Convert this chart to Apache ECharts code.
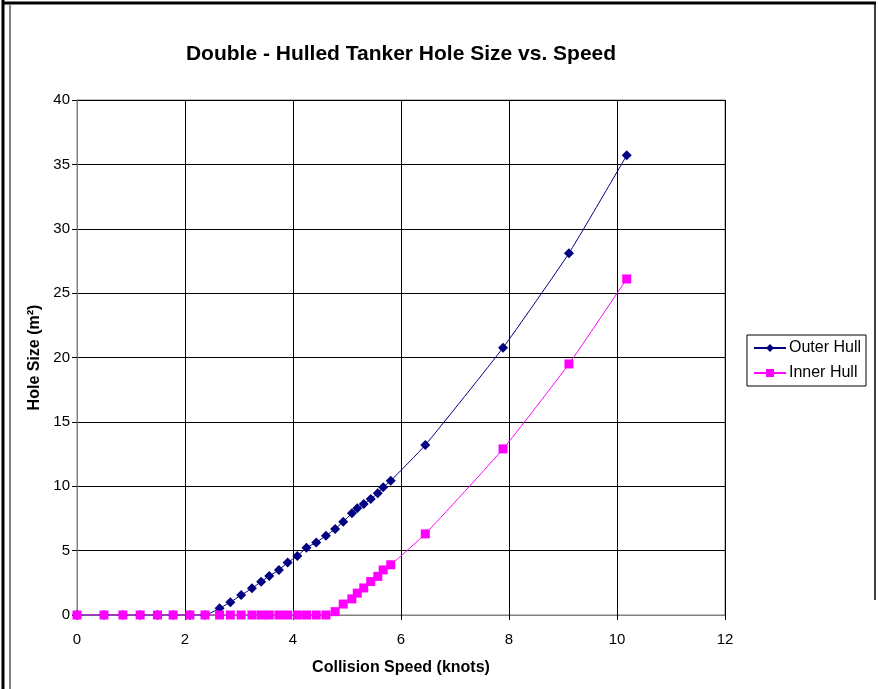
<!DOCTYPE html>
<html>
<head>
<meta charset="utf-8">
<script src="https://cdn.jsdelivr.net/npm/echarts@6/dist/echarts.min.js"></script>
<style>html,body{margin:0;padding:0;background:#fff}#c{width:878px;height:689px}</style>
</head>
<body>
<div id="c"></div>
<script>
const speeds = [0, 0.5, 0.85, 1.17, 1.49, 1.78, 2.09, 2.37, 2.64, 2.84, 3.04, 3.24, 3.41, 3.56, 3.74, 3.90, 4.08, 4.25, 4.43, 4.61, 4.78, 4.93, 5.09, 5.19, 5.31, 5.44, 5.57, 5.67, 5.81, 6.45, 7.89, 9.11, 10.18];
const outerHull = [0, 0, 0, 0, 0, 0, 0, 0, 0.52, 0.99, 1.55, 2.07, 2.59, 3.03, 3.50, 4.07, 4.58, 5.23, 5.64, 6.16, 6.68, 7.25, 7.90, 8.29, 8.62, 9.01, 9.45, 9.92, 10.43, 13.2, 20.76, 28.1, 35.7];
const innerHull = [0, 0, 0, 0, 0, 0, 0, 0, 0, 0, 0, 0, 0, 0, 0, 0, 0, 0, 0, 0, 0.26, 0.85, 1.25, 1.7, 2.1, 2.6, 3.0, 3.5, 3.9, 6.3, 12.9, 19.5, 26.1];
const xTicks = [0, 2, 4, 6, 8, 10, 12];
const yTicks = [0, 5, 10, 15, 20, 25, 30, 35, 40];

const pairs = (ys) => speeds.map((x, i) => [x, ys[i]]);
const font = 'Liberation Sans, Arial, sans-serif';
const chart = echarts.init(document.getElementById('c'), null, {renderer: 'canvas'});
chart.setOption({
  backgroundColor: '#fff',
  animation: false,
  title: {
    text: 'Double - Hulled Tanker Hole Size vs. Speed',
    left: 396, top: 39, textAlign: 'center',
    textStyle: {fontFamily: font, fontSize: 21, fontWeight: 'bold', color: '#000'}
  },
  legend: {
    right: 12, top: 335, orient: 'vertical',
    borderColor: '#000', borderWidth: 1, padding: [5, 5, 5, 6],
    itemWidth: 32, itemHeight: 10, itemGap: 9,
    textStyle: {fontFamily: font, fontSize: 16, color: '#000', padding: [0, 0, 0, -2]},
    data: ['Outer Hull', 'Inner Hull']
  },
  grid: {left: 77, right: 153, top: 100, bottom: 74, show: true, borderColor: '#808080', borderWidth: 1},
  xAxis: {
    type: 'value', min: xTicks[0], max: xTicks[xTicks.length - 1], interval: 2,
    name: 'Collision Speed (knots)', nameLocation: 'middle', nameGap: 45,
    nameTextStyle: {fontFamily: font, fontSize: 16, fontWeight: 'bold', color: '#000'},
    axisLine: {show: true, lineStyle: {color: '#808080', width: 1}},
    axisTick: {show: true, inside: false, length: 5, lineStyle: {color: '#000'}},
    axisLabel: {fontFamily: font, fontSize: 15, color: '#000', margin: 17},
    splitLine: {show: true, lineStyle: {color: '#000', width: 1}}
  },
  yAxis: {
    type: 'value', min: yTicks[0], max: yTicks[yTicks.length - 1], interval: 5,
    name: 'Hole Size (m²)', nameLocation: 'middle', nameGap: 34,
    nameTextStyle: {fontFamily: font, fontSize: 16, fontWeight: 'bold', color: '#000'},
    axisLine: {show: true, lineStyle: {color: '#808080', width: 1}},
    axisTick: {show: true, inside: false, length: 5, lineStyle: {color: '#000'}},
    axisLabel: {fontFamily: font, fontSize: 15, color: '#000', margin: 7},
    splitLine: {show: true, lineStyle: {color: '#000', width: 1}}
  },
  series: [
    {
      name: 'Outer Hull', type: 'line', data: pairs(outerHull),
      symbol: 'diamond', symbolSize: 10, smooth: 0.15,
      lineStyle: {color: '#000080', width: 1},
      itemStyle: {color: '#000080'}
    },
    {
      name: 'Inner Hull', type: 'line', data: pairs(innerHull),
      symbol: 'rect', symbolSize: 9, smooth: 0.15,
      lineStyle: {color: '#FF00FF', width: 1},
      itemStyle: {color: '#FF00FF'}
    }
  ],
  graphic: [
    {type: 'line', shape: {x1: 3, y1: 0, x2: 3, y2: 689}, style: {stroke: '#000', lineWidth: 3}},
    {type: 'line', shape: {x1: 2, y1: 3, x2: 876, y2: 3}, style: {stroke: '#000', lineWidth: 3}},
    {type: 'line', shape: {x1: 10, y1: 5, x2: 10, y2: 689}, style: {stroke: '#000', lineWidth: 1}},
    {type: 'line', shape: {x1: 875, y1: 2, x2: 875, y2: 600}, style: {stroke: '#000', lineWidth: 1.5}}
  ]
});
</script>
</body>
</html>
